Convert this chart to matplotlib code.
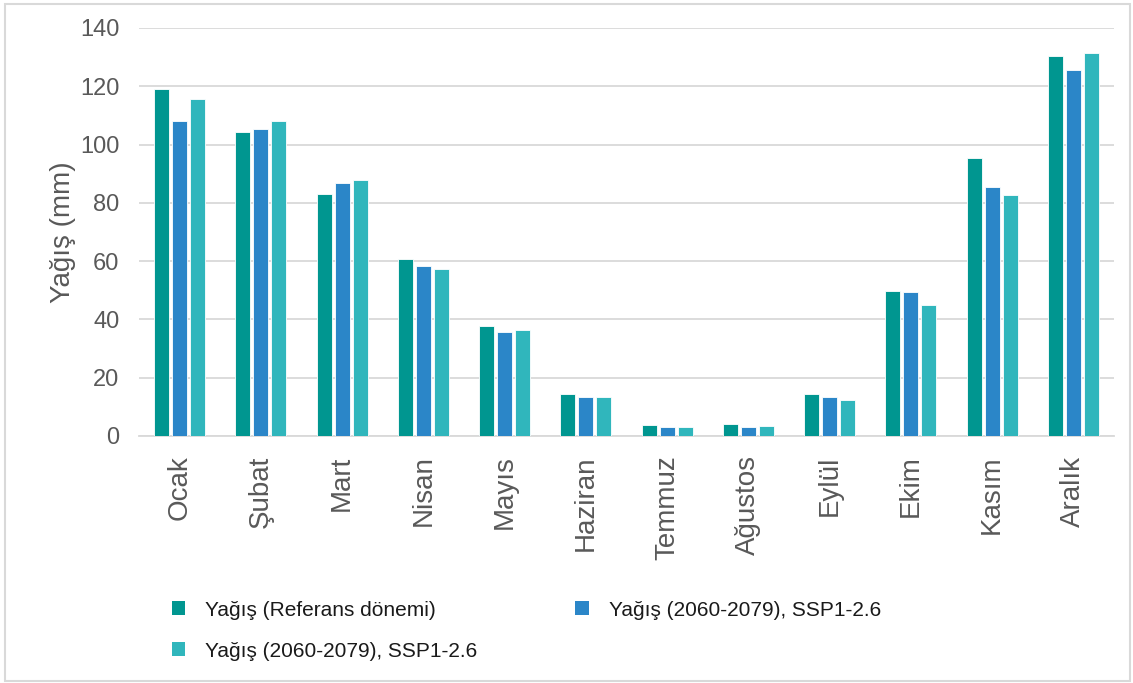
import matplotlib
matplotlib.use("Agg")
import matplotlib.pyplot as plt
import numpy as np
from matplotlib.patches import Rectangle, Patch

plt.rcParams['font.family'] = ['Liberation Sans', 'DejaVu Sans']

# aylik yagis degerleri (mm)
aylar = ['Ocak', 'Şubat', 'Mart', 'Nisan', 'Mayıs', 'Haziran',
         'Temmuz', 'Ağustos', 'Eylül', 'Ekim', 'Kasım', 'Aralık']
referans = [119.1, 104.2, 83.2, 60.6, 37.9, 14.5, 3.7, 4.1, 14.5, 49.7, 95.4, 130.5]
ssp_a = [108.2, 105.3, 86.8, 58.5, 35.6, 13.5, 3.0, 3.1, 13.3, 49.5, 85.3, 125.7]
ssp_b = [115.6, 108.1, 87.8, 57.4, 36.3, 13.5, 3.0, 3.4, 12.5, 45.1, 82.7, 131.3]

seriler = ['Yağış (Referans dönemi)', 'Yağış (2060-2079), SSP1-2.6',
           'Yağış (2060-2079), SSP1-2.6']
renkler = ['#009690', '#2B86C8', '#30B6BC']

W, H = 1133, 683
fig = plt.figure(figsize=(W / 100, H / 100), dpi=100)
ax = fig.add_axes([139 / W, 1 - 436 / H, (1114 - 139) / W, (436 - 28) / H])

x = np.arange(len(aylar))
gen = 0.185
for i, (vals, c) in enumerate(zip([referans, ssp_a, ssp_b], renkler)):
    ax.bar(x + (i - 1) * 0.222, vals, gen, color=c, edgecolor='white',
           linewidth=0.6, zorder=3)

ax.set_xlim(-0.5, len(aylar) - 0.5)
ax.set_ylim(0, 140)
ax.set_yticks(range(0, 141, 20))
ax.yaxis.grid(True, color='#d9d9d9', linewidth=1.3, zorder=0)
for s in ['top', 'right', 'left']:
    ax.spines[s].set_visible(False)
ax.spines['bottom'].set_color('#d9d9d9')
ax.spines['bottom'].set_linewidth(1.3)
ax.tick_params(axis='both', length=0, colors='#595959')
ax.tick_params(axis='y', labelsize=17, pad=14)
ax.set_xticks(x)
ax.set_xticklabels(aylar, rotation=90, fontsize=20, color='#595959')
ax.tick_params(axis='x', pad=14)
ax.set_ylabel('Yağış (mm)', fontsize=20, color='#595959', labelpad=3)

# lejant: iki sutun, ikinci sutunda tek oge
handles = [Patch(facecolor=renkler[0]), Patch(facecolor=renkler[2]),
           Patch(facecolor=renkler[1])]
labels = [seriler[0], seriler[2], seriler[1]]
fig.legend(handles, labels, ncol=2, loc='upper left',
           bbox_to_anchor=(153 / W, 1 - 582 / H), frameon=False,
           fontsize=15, handlelength=0.65, handleheight=0.65,
           handletextpad=0.95, columnspacing=4.7, labelspacing=1.05,
           labelcolor='#1a1a1a')

# cerceve
fig.patches.append(Rectangle((5 / W, 2 / H), 1125 / W, 677 / H,
                             transform=fig.transFigure, fill=False,
                             edgecolor='#d9d9d9', linewidth=1.5))

fig.savefig('out.png', dpi=100)
